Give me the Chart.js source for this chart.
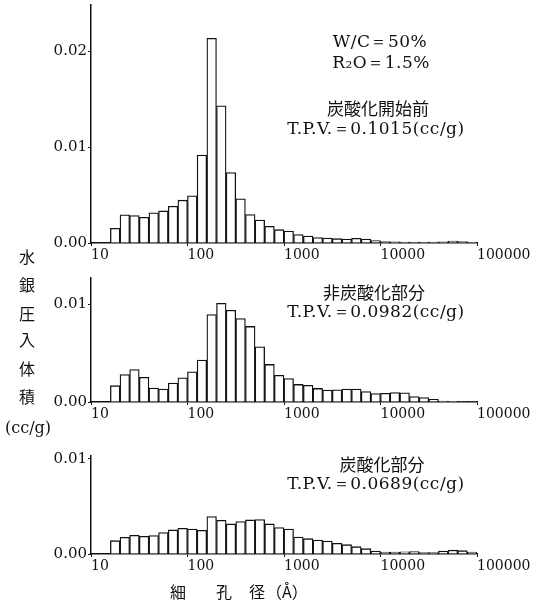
<!DOCTYPE html>
<html>
<head>
<meta charset="utf-8">
<script src="https://cdn.jsdelivr.net/npm/chart.js@4.4.1/dist/chart.umd.min.js"></script>
<style>
    body { margin: 0; background: #fff; }
    #wrap { position: relative; width: 538px; height: 605px; overflow: hidden; font-family: "DejaVu Serif", serif; color: #111; }
    canvas { position: absolute; left: 0; }
    .t { position: absolute; white-space: nowrap; font-size: 16px; line-height: 1; }
    .n { font-size: 17px; letter-spacing: 0.5px; }
    .c { transform: translateX(-50%); }
    .jp { font-family: "Noto Sans CJK JP", sans-serif; }
    .big { font-size: 17px; }
</style>
</head>
<body>
<div id="wrap">
    <canvas id="panel1" width="538" height="265" style="top:0px"></canvas>
    <canvas id="panel2" width="538" height="150" style="top:270px"></canvas>
    <canvas id="panel3" width="538" height="140" style="top:440px"></canvas>

    <!-- panel labels -->
    <div class="t c n" style="left:380px;top:33px">W/C＝50%</div>
    <div class="t c n" style="left:381px;top:54px">R₂O＝1.5%</div>
    <div class="t c jp big" style="left:378px;top:99px">炭酸化開始前</div>
    <div class="t c n" style="left:376px;top:120px">T.P.V.＝0.1015(cc/g)</div>

    <div class="t c jp big" style="left:374px;top:283px">非炭酸化部分</div>
    <div class="t c n" style="left:376px;top:303px">T.P.V.＝0.0982(cc/g)</div>

    <div class="t c jp big" style="left:382px;top:455px">炭酸化部分</div>
    <div class="t c n" style="left:376px;top:475px">T.P.V.＝0.0689(cc/g)</div>

    <!-- y axis title -->
    <div class="t c jp" style="left:27px;top:248px">水</div>
    <div class="t c jp" style="left:27px;top:276px">銀</div>
    <div class="t c jp" style="left:27px;top:305px">圧</div>
    <div class="t c jp" style="left:27px;top:331px">入</div>
    <div class="t c jp" style="left:27px;top:360px">体</div>
    <div class="t c jp" style="left:27px;top:388px">積</div>
    <div class="t" style="left:5px;top:420px">(cc/g)</div>

    <!-- x axis title -->
    <div class="t jp" style="left:170px;top:583px">細</div>
    <div class="t jp" style="left:216px;top:583px">孔</div>
    <div class="t jp" style="left:249px;top:583px">径</div>
    <div class="t jp" style="left:266px;top:583px">（Å）</div>
</div>

<script>
// Pore size bins (Å), 10 bins per decade
const poreSize = [17.8, 22.4, 28.2, 35.5, 44.7, 56.2, 70.8, 89.1, 112, 141,
    178, 224, 282, 355, 447, 562, 708, 891, 1120, 1410,
    1780, 2240, 2820, 3550, 4470, 5620, 7080, 8910, 11200, 14100,
    17800, 22400, 28200, 35500, 44700, 56200, 70800, 89100];

// 炭酸化開始前
const beforeCarb = [0.00153, 0.00293, 0.00286, 0.00268, 0.00314, 0.00334, 0.00383, 0.00446, 0.00491, 0.00916,
    0.02132, 0.01429, 0.00735, 0.00460, 0.00296, 0.00240, 0.00174, 0.00139, 0.00125, 0.00087,
    0.00073, 0.00056, 0.00052, 0.00045, 0.00042, 0.00049, 0.00042, 0.00024, 0.00015, 0.00012,
    0.00010, 0.00010, 0.00010, 0.00010, 0.00012, 0.00020, 0.00015, 0.00010];

// 非炭酸化部分
const nonCarb = [0.00167, 0.00281, 0.00333, 0.00253, 0.00142, 0.00132, 0.00194, 0.00247, 0.00309, 0.00430,
    0.00896, 0.01010, 0.00940, 0.00854, 0.00774, 0.00566, 0.00385, 0.00274, 0.00240, 0.00180,
    0.00170, 0.00139, 0.00122, 0.00125, 0.00132, 0.00132, 0.00108, 0.00087, 0.00090, 0.00097,
    0.00094, 0.00056, 0.00045, 0.00028, 0.00010, 0.00008, 0.00005, 0.00005];

// 炭酸化部分
const carb = [0.00140, 0.00175, 0.00196, 0.00186, 0.00193, 0.00225, 0.00253, 0.00270, 0.00263, 0.00249,
    0.00393, 0.00354, 0.00316, 0.00340, 0.00358, 0.00361, 0.00316, 0.00277, 0.00263, 0.00179,
    0.00161, 0.00147, 0.00137, 0.00112, 0.00098, 0.00077, 0.00056, 0.00032, 0.00020, 0.00020,
    0.00022, 0.00025, 0.00015, 0.00015, 0.00030, 0.00040, 0.00035, 0.00020];

const xTicks = [10, 100, 1000, 10000, 100000];
const yTicks1 = [0, 0.01, 0.02];
const yTicks2 = [0, 0.01];
const yTicks3 = [0, 0.01];

function initPanel(id, values, yMax, yTicks, padTop, xAxisHeight) {
    const ctx = document.getElementById(id).getContext('2d');
    return new Chart(ctx, {
        type: 'bar',
        data: {
            datasets: [{
                data: poreSize.map((s, i) => ({ x: s, y: values[i] })),
                backgroundColor: '#fff',
                borderColor: '#111',
                borderWidth: 1.3,
                borderSkipped: 'bottom',
                barPercentage: 1,
                categoryPercentage: 1
            }]
        },
        options: {
            responsive: false,
            animation: false,
            devicePixelRatio: 1,
            layout: { padding: { left: 0, right: 61, top: padTop, bottom: 0 } },
            plugins: { legend: { display: false }, tooltip: { enabled: false } },
            scales: {
                x: {
                    type: 'logarithmic',
                    min: 10,
                    max: 100000,
                    offset: false,
                    afterBuildTicks: s => { s.ticks = xTicks.map(v => ({ value: v })); },
                    afterFit: s => { s.height = xAxisHeight; s.paddingLeft = 0; s.paddingRight = 0; },
                    ticks: {
                        align: 'start', autoSkip: false, maxRotation: 0, padding: 1, color: '#111',
                        font: { family: 'DejaVu Serif', size: 14 },
                        callback: v => String(v)
                    },
                    grid: { offset: false, drawOnChartArea: false, tickLength: 3, color: '#111' },
                    border: { color: '#111', width: 1.5 }
                },
                y: {
                    min: 0,
                    max: yMax,
                    afterBuildTicks: s => { s.ticks = yTicks.map(v => ({ value: v })); },
                    afterFit: s => { s.width = 91; s.paddingTop = 0; s.paddingBottom = 0; },
                    ticks: {
                        padding: 1, color: '#111',
                        font: { family: 'DejaVu Serif', size: 15 },
                        callback: v => v.toFixed(2)
                    },
                    grid: { drawOnChartArea: false, tickLength: 3, color: '#111' },
                    border: { color: '#111', width: 1.5 }
                }
            }
        }
    });
}

initPanel('panel1', beforeCarb, 0.0248, yTicks1, 5, 22);
initPanel('panel2', nonCarb, 0.0127, yTicks2, 8, 18);
initPanel('panel3', carb, 0.0103, yTicks3, 16, 26);
</script>
</body>
</html>
